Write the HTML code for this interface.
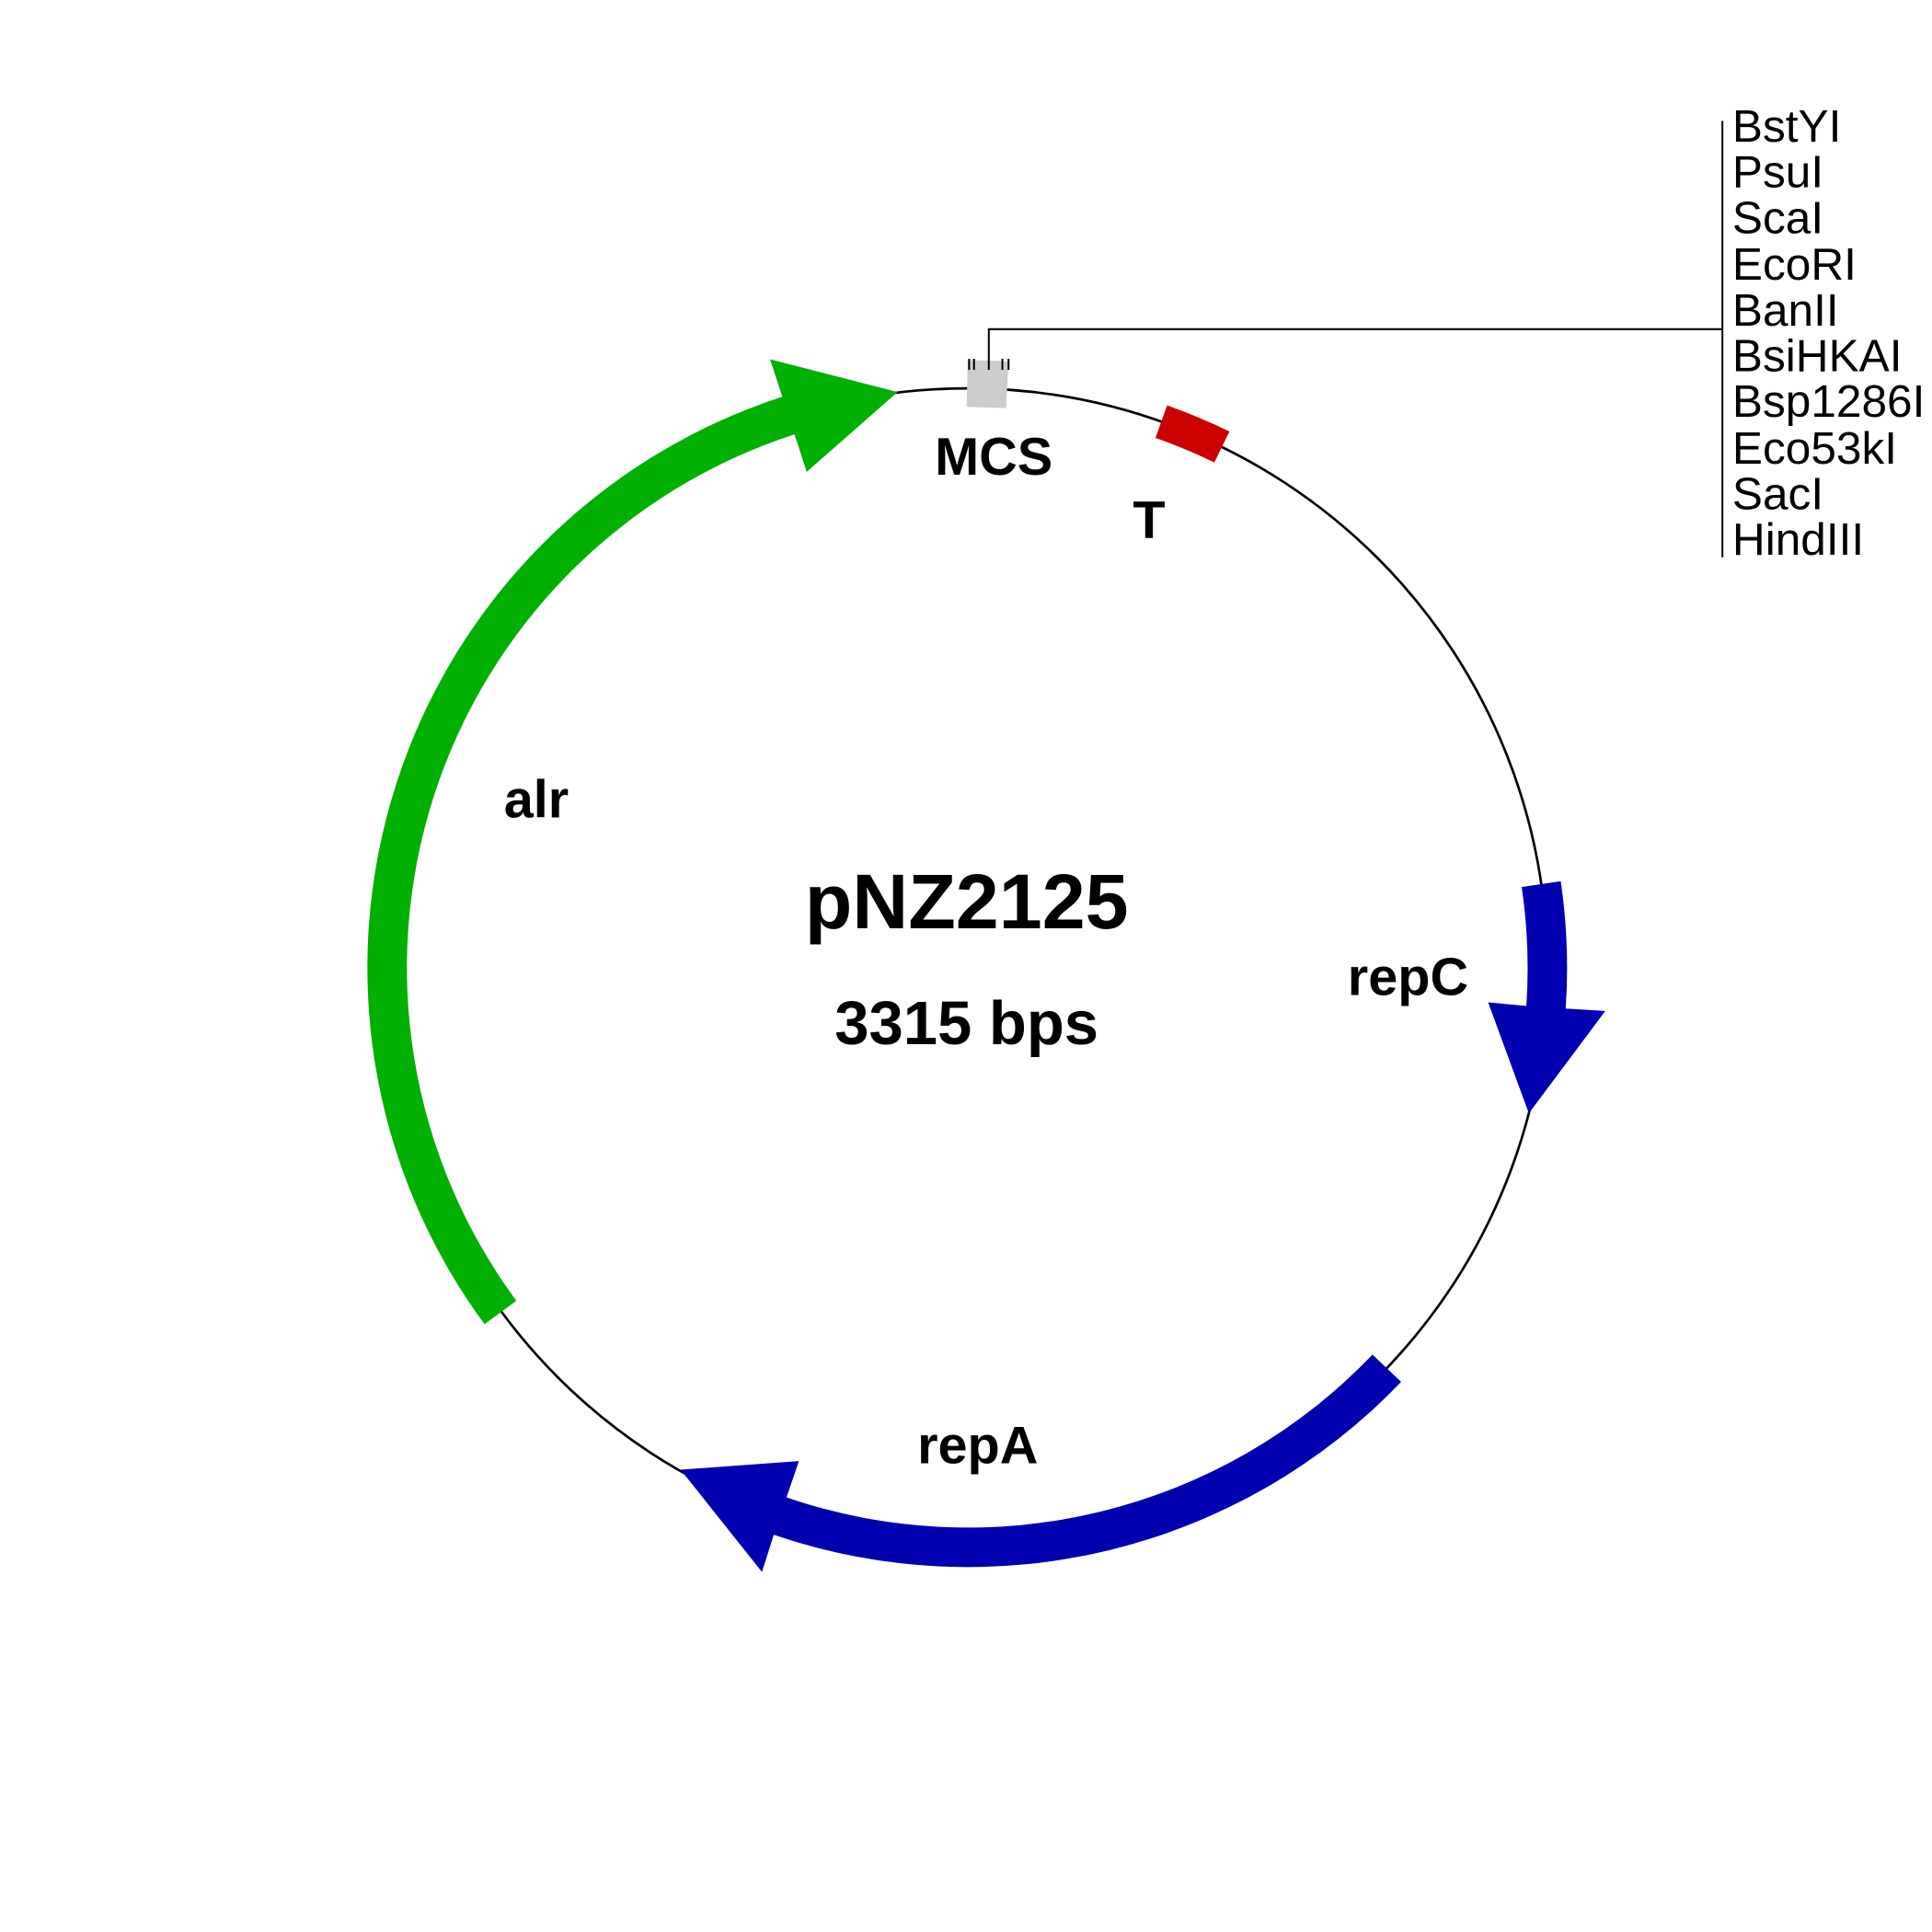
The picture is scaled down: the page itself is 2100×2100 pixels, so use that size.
<!DOCTYPE html>
<html><head><meta charset="utf-8"><style>html,body{margin:0;padding:0;background:#fff}svg{display:block}</style></head>
<body>
<svg width="2100" height="2100" viewBox="0 0 1567 1567" xmlns="http://www.w3.org/2000/svg">
<rect width="1567" height="1567" fill="#fff"/>
<circle cx="785" cy="785" r="470" fill="none" stroke="#000" stroke-width="2"/>
<path d="M418.8 1055 L393 1074 A487 487 0 0 1 634.5 321.8 L624.6 291.4 L728 318 L654.3 382.7 L644.4 352.3 A455 455 0 0 0 418.8 1055 Z" fill="#00b000"/>
<path d="M1234.2 719.4 L1265.9 714.8 A486 486 0 0 1 1269.9 818 L1302 820 L1240 903 L1207 813 L1238 815.9 A454 454 0 0 0 1234.2 719.4 Z" fill="#0000b0"/>
<path d="M1113.2 1098.7 L1136.4 1120.8 A486 486 0 0 1 627.6 1244.8 L618 1275 L552 1192 L648 1185 L637.9 1214.5 A454 454 0 0 0 1113.2 1098.7 Z" fill="#0000b0"/>
<path d="M946.6 328.8 A484 484 0 0 1 997.2 350 L984.9 375.1 A456 456 0 0 0 937.2 355.2 Z" fill="#cc0000"/>
<path d="M785 292 L818 293 L816 331 L784 330 Z" fill="#cccccc"/>
<g stroke="#000" stroke-width="1.5" fill="none">
<line x1="786" y1="291" x2="786" y2="300"/>
<line x1="790" y1="291" x2="790" y2="300"/>
<line x1="813" y1="291" x2="813" y2="300"/>
<line x1="818" y1="291" x2="818" y2="300"/>
<polyline points="802,300 802,267 1397,267"/>
<line x1="1397" y1="98" x2="1397" y2="452"/>
</g>
<g font-family="Liberation Sans, sans-serif" font-size="37" fill="#000">
<text x="1405" y="115">BstYI</text>
<text x="1405" y="152">PsuI</text>
<text x="1405" y="189">ScaI</text>
<text x="1405" y="227">EcoRI</text>
<text x="1405" y="264">BanII</text>
<text x="1405" y="301">BsiHKAI</text>
<text x="1405" y="338">Bsp1286I</text>
<text x="1405" y="376">Eco53kI</text>
<text x="1405" y="413">SacI</text>
<text x="1405" y="450">HindIII</text>
</g>
<g font-family="Liberation Sans, sans-serif" font-weight="bold" fill="#000" text-anchor="middle">
<text x="806" y="385" font-size="43">MCS</text>
<text x="932" y="436" font-size="43">T</text>
<text x="435" y="663" font-size="43">alr</text>
<text x="1142" y="807" font-size="43">repC</text>
<text x="793" y="1187" font-size="43">repA</text>
<text x="784" y="753" font-size="63">pNZ2125</text>
<text x="784" y="847" font-size="50">3315 bps</text>
</g>
</svg>
</body></html>
